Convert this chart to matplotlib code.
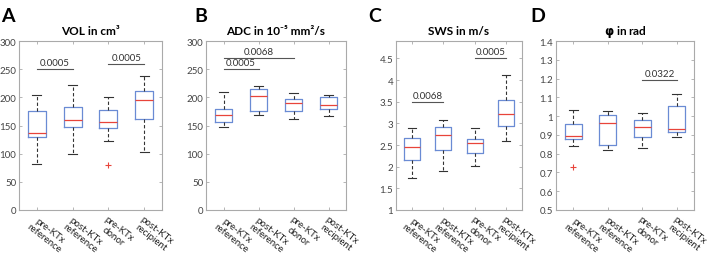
import matplotlib
matplotlib.use("Agg")
import matplotlib.pyplot as plt
import matplotlib.transforms as mtransforms
from matplotlib.ticker import FormatStrFormatter

plt.rcParams['font.family'] = ['Lato', 'DejaVu Sans']

groups = ['pre-KTx\nreference', 'post-KTx\nreference', 'pre-KTx\ndonor', 'post-KTx\nrecipient']

# box stats: low whisker, q1, median, q3, high whisker
vol_lo = [81, 100, 123, 103]
vol_q1 = [129, 147, 146, 161]
vol_med = [136, 159, 157, 195]
vol_q3 = [176, 182, 177, 211]
vol_hi = [204, 222, 201, 237]
vol_fl = [[], [], [80], []]

adc_lo = [147, 169, 161, 167]
adc_q1 = [157, 176, 176, 180]
adc_med = [168, 203, 190, 186]
adc_q3 = [179, 214, 197, 200]
adc_hi = [209, 221, 208, 204]
adc_fl = [[], [], [], []]

sws_lo = [1.73, 1.91, 2.02, 2.59]
sws_q1 = [2.16, 2.38, 2.32, 2.93]
sws_med = [2.45, 2.72, 2.54, 3.21]
sws_q3 = [2.67, 2.92, 2.65, 3.55]
sws_hi = [2.90, 3.08, 2.90, 4.12]
sws_fl = [[], [], [], []]

phi_lo = [0.84, 0.82, 0.83, 0.888]
phi_q1 = [0.88, 0.845, 0.89, 0.913]
phi_med = [0.895, 0.963, 0.943, 0.934]
phi_q3 = [0.96, 1.005, 0.977, 1.054]
phi_hi = [1.03, 1.027, 1.014, 1.118]
phi_fl = [[0.73], [], [], []]

# significance bars: (from group, to group, height, p)
vol_sig = [(1, 2, 250, '0.0005'), (3, 4, 260, '0.0005')]
adc_sig = [(1, 2, 250, '0.0005'), (1, 3, 270, '0.0068')]
sws_sig = [(1, 2, 3.5, '0.0068'), (3, 4, 4.5, '0.0005')]
phi_sig = [(3, 4, 1.19, '0.0322')]

# letter x, axes left, axes right (pixels)
panels = [
    ('A', 'VOL in cm³', (vol_lo, vol_q1, vol_med, vol_q3, vol_hi, vol_fl), vol_sig,
     (0, 300), range(0, 301, 50), [1, 19, 162]),
    ('B', 'ADC in 10⁻⁵ mm²/s', (adc_lo, adc_q1, adc_med, adc_q3, adc_hi, adc_fl), adc_sig,
     (0, 300), range(0, 301, 50), [194, 206, 346]),
    ('C', 'SWS in m/s', (sws_lo, sws_q1, sws_med, sws_q3, sws_hi, sws_fl), sws_sig,
     (1, 4.9), [1, 1.5, 2, 2.5, 3, 3.5, 4, 4.5], [368, 396, 522]),
    ('D', r'$\boldsymbol{\varphi}$ in rad', (phi_lo, phi_q1, phi_med, phi_q3, phi_hi, phi_fl), phi_sig,
     (0.5, 1.4), [0.5, 0.6, 0.7, 0.8, 0.9, 1, 1.1, 1.2, 1.3, 1.4], [530, 556, 694]),
]

W, H = 709, 255
fig = plt.figure(figsize=(W / 100, H / 100), dpi=100)

box_col = '#6a8bd4'
shift = mtransforms.ScaledTranslation(-3 / 100, 0, fig.dpi_scale_trans)

for letter, title, st, sigs, ylim, yticks, (lx, x0, x1) in panels:
    ax = fig.add_axes([x0 / W, (H - 211) / H, (x1 - x0) / W, (211 - 42) / H])
    lo, q1, med, q3, hi, fl = st
    stats = [dict(whislo=lo[i], q1=q1[i], med=med[i], q3=q3[i], whishi=hi[i], fliers=fl[i])
             for i in range(4)]
    ax.bxp(stats, positions=[1, 2, 3, 4], widths=0.5, capwidths=0.25,
           boxprops=dict(color=box_col, lw=0.9),
           medianprops=dict(color='#e8443a', lw=0.9),
           whiskerprops=dict(color='#333333', lw=0.8, ls=(0, (3, 2))),
           capprops=dict(color='#333333', lw=0.8),
           flierprops=dict(marker='+', markeredgecolor='#e8443a', markersize=4, markeredgewidth=0.8))
    for a, b, h, p in sigs:
        ax.plot([a, b], [h, h], color='#555555', lw=0.8)
        ax.text((a + b) / 2, h + (ylim[1] - ylim[0]) * 0.012, p, ha='center', va='bottom',
                fontsize=7, color='#333333')
    ax.set_xlim(0.5, 4.5)
    ax.set_ylim(*ylim)
    ax.set_yticks(list(yticks))
    ax.yaxis.set_major_formatter(FormatStrFormatter('%g'))
    ax.set_xticks([1, 2, 3, 4])
    ax.set_xticklabels(groups, rotation=-38, ha='left', va='top', rotation_mode='anchor',
                       multialignment='center', fontsize=6.2, color='#222222',
                       linespacing=1.05)
    for lab in ax.get_xticklabels():
        lab.set_transform(lab.get_transform() + shift)
    ax.tick_params(direction='in', length=2, width=0.5, top=True, right=True,
                   colors='#999999', labelsize=7, labelcolor='#444444')
    ax.tick_params(axis='y', pad=2)
    ax.tick_params(axis='x', pad=3, labelcolor='#222222')
    for s in ax.spines.values():
        s.set_color('#aaaaaa')
        s.set_linewidth(0.8)
    ax.set_title(title, fontsize=8.5, fontweight='bold', pad=5)
    fig.text(lx / W, 1 - 22 / H, letter, fontsize=14, fontweight='bold', ha='left')

fig.savefig('out.png', dpi=100)
